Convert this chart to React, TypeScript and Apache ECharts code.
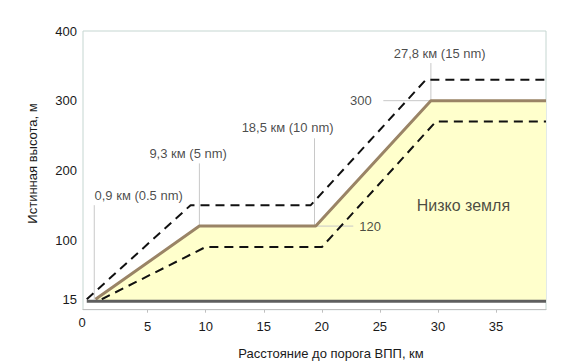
import { useEffect, useRef } from "react";
import * as echarts from "echarts";

// Tick labels
const xTickValues = [0, 5, 10, 15, 20, 25, 30, 35];
const yTickValues = [15, 100, 200, 300, 400];

// Profile (km, m)
const profileKm = [1.0, 9.3, 18.6, 27.8, 37];
const profileM = [15, 120, 120, 300, 300];
// Upper tolerance
const upperKm = [0.3, 8.6, 18.2, 27.4, 37];
const upperM = [15, 150, 150, 330, 330];
// Lower tolerance
const lowerKm = [1.5, 9.8, 19.1, 28.2, 37];
const lowerM = [15, 90, 90, 270, 270];
// Ground
const groundKm = [0.3, 37];
const groundM = [12, 12];

// Vertical annotation lines
const annoKm = [0.9, 9.3, 18.5, 27.8];
const annoBottom = [15, 120, 120, 300];
const annoTop = [150, 210, 246, 354];
const annoTexts = ["0,9 км (0.5 nm)", "9,3 км (5 nm)", "18,5 км (10 nm)", "27,8 км (15 nm)"];
const annoTextKm = [4.45, 8.4, 16.35, 28.5];
const annoTextM = [164.6, 223.5, 260.8, 368.4];

// Horizontal level marks
const levelM = [300, 120];
const levelFromKm = [24.0, 18.6];
const levelToKm = [27.8, 21.6];
const levelTexts = ["300", "120"];
const levelTextKm = [22.2, 22.95];

const areaText = "Низко земля";
const areaTextPos = [30.4, 150];

const FONT = "'Liberation Sans', Arial, sans-serif";

const zip = (a: number[], b: number[]) => a.map((v, i) => [v, b[i]]);

export default function App() {
  const ref = useRef<HTMLDivElement>(null);
  useEffect(() => {
    const chart = echarts.init(ref.current!, null, { renderer: "svg" });
    const thin = { color: "#c8c8c8", width: 1 };
    const series: any[] = [];
    series.push({
      type: "line",
      xAxisIndex: 1,
      data: zip(profileKm, profileM),
      symbol: "none",
      lineStyle: { width: 0 },
      areaStyle: { color: "#ffffcc", opacity: 1, origin: 13 },
      z: 1,
    });
    annoKm.forEach((k, i) => {
      series.push({
        type: "line",
        xAxisIndex: 1,
        data: [[k, annoBottom[i]], [k, annoTop[i]]],
        symbol: "none",
        lineStyle: thin,
        z: 2,
      });
    });
    levelM.forEach((m, i) => {
      series.push({
        type: "line",
        xAxisIndex: 1,
        data: [[levelFromKm[i], m], [levelToKm[i], m]],
        symbol: "none",
        lineStyle: thin,
        z: 2,
      });
    });
    series.push({
      type: "line",
      xAxisIndex: 1,
      data: zip(upperKm, upperM),
      symbol: "none",
      lineStyle: { color: "#111", width: 2, type: [9, 6] },
      z: 3,
    });
    series.push({
      type: "line",
      xAxisIndex: 1,
      data: zip(lowerKm, lowerM),
      symbol: "none",
      lineStyle: { color: "#111", width: 2, type: [9, 6] },
      z: 3,
    });
    series.push({
      type: "line",
      xAxisIndex: 1,
      data: zip(profileKm, profileM),
      symbol: "none",
      lineStyle: { color: "#9a8466", width: 3 },
      z: 4,
    });
    series.push({
      type: "line",
      xAxisIndex: 1,
      data: zip(groundKm, groundM),
      symbol: "none",
      lineStyle: { color: "#5e5e5e", width: 3 },
      z: 5,
    });
    const labelData: any[] = [];
    annoTexts.forEach((t, i) => labelData.push({ value: [annoTextKm[i], annoTextM[i]], name: t }));
    levelTexts.forEach((t, i) => labelData.push({ value: [levelTextKm[i], levelM[i]], name: t }));
    series.push({
      type: "scatter",
      xAxisIndex: 1,
      symbolSize: 0,
      silent: true,
      data: labelData,
      label: {
        show: true,
        position: "inside",
        formatter: (p: any) => p.name,
        color: "#1a1a1a",
        fontSize: 13,
        fontFamily: FONT,
      },
      z: 6,
    });
    series.push({
      type: "scatter",
      xAxisIndex: 1,
      symbolSize: 0,
      silent: true,
      data: [{ value: areaTextPos, name: areaText }],
      label: {
        show: true,
        position: "inside",
        formatter: (p: any) => p.name,
        color: "#1a1a1a",
        fontSize: 16,
        fontFamily: FONT,
      },
      z: 6,
    });

    const option: any = {
      animation: false,
      backgroundColor: "#ffffff",
      grid: {
        left: 83,
        top: 31,
        width: 463,
        height: 278.7,
        show: true,
        borderColor: "#c5d6d1",
        borderWidth: 1,
        backgroundColor: "transparent",
      },
      xAxis: [
        {
          type: "value",
          position: "bottom",
          min: -0.57,
          max: 39.31,
          axisLine: { show: true, lineStyle: { color: "#bfbfbf", width: 1 } },
          axisTick: {
            show: true,
            length: 3,
            customValues: xTickValues.filter((v) => v > 0),
            lineStyle: { color: "#bfbfbf" },
          },
          axisLabel: {
            customValues: xTickValues.filter((v) => v > 0),
            margin: 10,
            color: "#1a1a1a",
            fontSize: 13,
            fontFamily: FONT,
          },
          splitLine: { show: false },
        },
        {
          type: "value",
          position: "top",
          min: 0,
          max: 37,
          show: false,
          splitLine: { show: false },
        },
      ],
      yAxis: {
        type: "value",
        min: 0,
        max: 400,
        axisLine: { show: false },
        axisTick: { show: false },
        splitLine: { show: false },
        axisLabel: {
          customValues: yTickValues,
          margin: 6,
          color: "#1a1a1a",
          fontSize: 13,
          fontFamily: FONT,
        },
      },
      graphic: [
        {
          type: "text",
          x: 82,
          y: 322,
          style: {
            text: String(xTickValues[0]),
            fill: "#1a1a1a",
            font: `13px ${FONT}`,
            align: "center",
            verticalAlign: "middle",
          },
        },
        {
          type: "text",
          x: 331,
          y: 353,
          style: {
            text: "Расстояние до порога ВПП, км",
            fill: "#1a1a1a",
            font: `13px ${FONT}`,
            align: "center",
            verticalAlign: "middle",
          },
        },
        {
          type: "text",
          x: 32,
          y: 163.5,
          rotation: Math.PI / 2,
          style: {
            text: "Истинная высота, м",
            fill: "#1a1a1a",
            font: `13px ${FONT}`,
            align: "center",
            verticalAlign: "middle",
          },
        },
      ],
      series,
    };
    chart.setOption(option);
    return () => chart.dispose();
  }, []);
  return (
    <div
      ref={ref}
      style={{ position: "absolute", left: 0, top: 0, width: 574, height: 364, background: "#fff" }}
    />
  );
}
